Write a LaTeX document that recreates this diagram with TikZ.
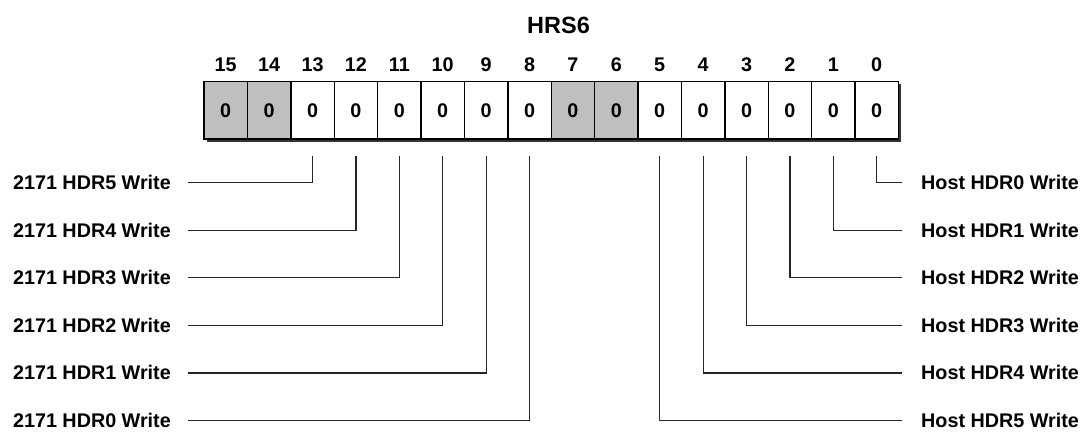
\documentclass[tikz,border=0pt]{standalone}
\usepackage{fontspec}
\setmainfont{Liberation Sans}
\begin{document}
\begin{tikzpicture}[x=1pt,y=-1pt,
  every node/.style={font=\fontsize{19.75}{23}\selectfont\bfseries, inner sep=0pt},
  cell/.style={draw=black, line width=1.4pt, minimum width=43.4pt, minimum height=57.3pt, fill=white},
  rcell/.style={cell, fill=gray!50},
  wire/.style={line width=1.2pt, draw=black!85}]
\useasboundingbox (0,0) rectangle (1092,432);
\node[font=\fontsize{23.5}{27}\selectfont\bfseries] (title) at (558.5,25.7) {HRS6};
% shadow
\fill[black!80] (206.5,84.2) rectangle (900.5,141.5);
\foreach \k in {0,...,15}{
  \pgfmathtruncatemacro{\b}{15-\k}
  \pgfmathsetmacro{\cx}{204+43.4*(\k+0.5)}
  \ifnum\b=15 \def\st{rcell}\else\ifnum\b=14 \def\st{rcell}\else\ifnum\b=7 \def\st{rcell}\else\ifnum\b=6 \def\st{rcell}\else\def\st{cell}\fi\fi\fi\fi
  \node[\st] (c\b) at (\cx,110.3) {0};
  \node (n\b) at (\cx,65) {\b};
  \coordinate (s\b) at (\cx,156);
}
% left labels
\foreach \i/\b in {5/13,4/12,3/11,2/10,1/9,0/8}{
  \pgfmathsetmacro{\yy}{182.5+47.6*(5-\i)}
  \node[anchor=east] (L\i) at (171,\yy) {2171 HDR\i\ Write};
  \draw[wire] (s\b) |- ([xshift=16.7pt]L\i.east);
}
% right labels
\foreach \i/\b in {0/0,1/1,2/2,3/3,4/4,5/5}{
  \pgfmathsetmacro{\yy}{182.5+47.6*\i}
  \node[anchor=west] (R\i) at (921,\yy) {Host HDR\i\ Write};
  \draw[wire] (s\b) |- ([xshift=-19pt]R\i.west);
}
\end{tikzpicture}
\end{document}
